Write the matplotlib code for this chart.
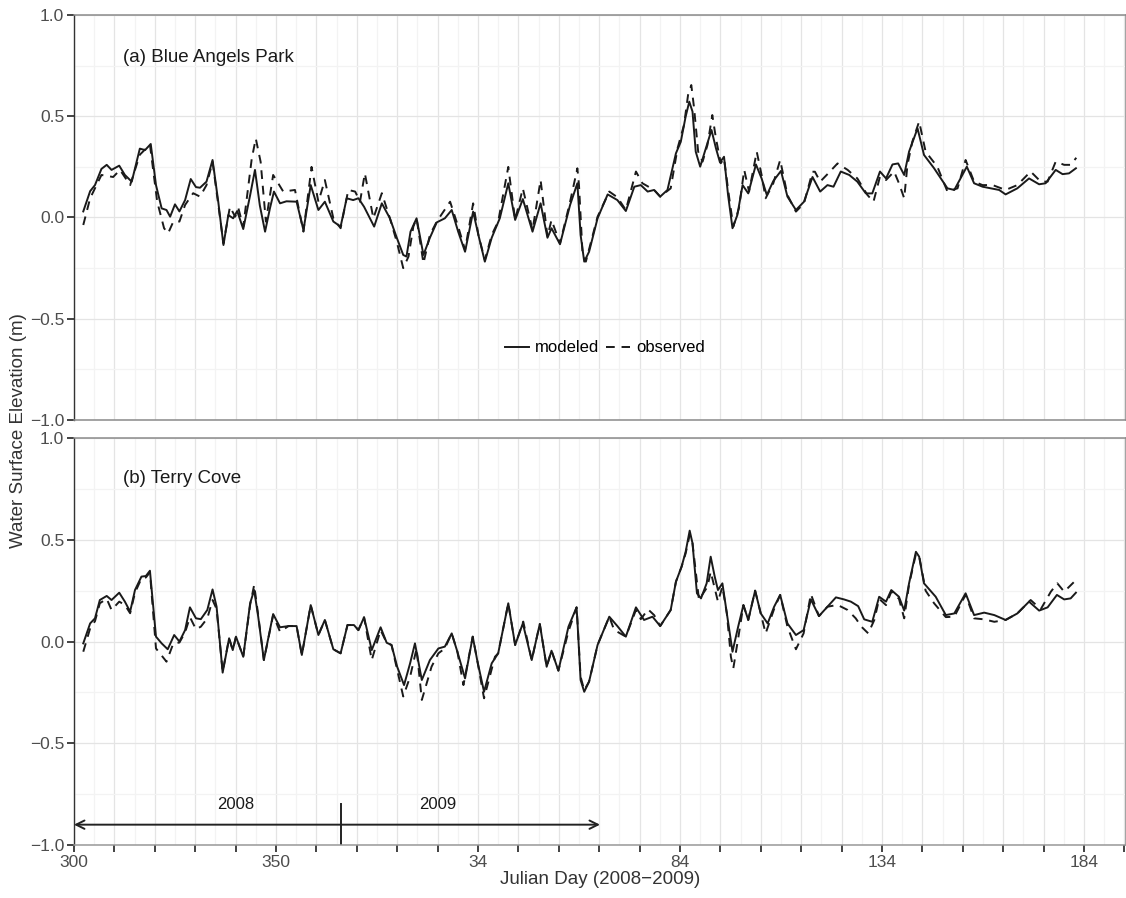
import matplotlib.pyplot as plt

plt.rcParams['font.family'] = ['Liberation Sans', 'DejaVu Sans']

# x = continuous day count: 2008 Julian days 300..366, then 366 + Julian day of 2009
# (a) Blue Angels Park
bap_mod_day = [302.3, 304.0, 305.2, 306.8, 308.1, 309.3, 311.2, 312.6, 314.3, 316.3, 317.6, 319.0,
               320.3, 321.7, 322.9, 323.8, 325.0, 326.1, 327.5, 328.9, 330.2, 331.2, 332.8, 334.3,
               335.7, 337.0, 338.2, 339.4, 340.4, 341.9, 343.6, 344.8, 346.0, 347.3, 348.5, 349.5,
               351.0, 352.6, 355.1, 356.8, 358.6, 360.5, 362.1, 364.2, 366.0, 367.5, 369.1, 370.4,
               371.8, 374.3, 376.2, 378.2, 379.9, 381.5, 382.3, 383.3, 384.8, 386.5, 388.1, 389.8,
               391.8, 393.5, 395.1, 396.8, 398.8, 400.1, 401.7, 403.4, 405.4, 407.5, 409.2, 411.1,
               413.5, 415.5, 417.2, 418.2, 420.3, 422.8, 424.6, 425.4, 426.3, 427.5, 429.6, 432.1,
               434.5, 436.6, 438.7, 440.3, 442.0, 443.6, 445.1, 446.9, 449.0, 450.2, 451.4, 452.3,
               453.1, 453.9, 455.0, 456.4, 457.8, 458.9, 459.9, 460.9, 461.9, 463.0, 464.2, 465.5,
               466.9, 468.8, 470.2, 471.5, 473.1, 475.0, 476.6, 478.7, 480.7, 482.8, 484.7, 486.5,
               488.0, 489.8, 491.9, 493.9, 496.0, 497.6, 499.5, 501.0, 502.6, 504.0, 505.5, 506.7,
               508.8, 510.4, 512.9, 516.2, 517.9, 521.0, 522.8, 524.9, 526.9, 529.0, 530.6, 533.5,
               536.4, 538.9, 540.5, 543.0, 544.7, 546.3, 548.0]
bap_mod = [0.03, 0.13, 0.16, 0.24, 0.26, 0.235, 0.256, 0.21, 0.177, 0.34, 0.333, 0.363,
           0.16, 0.045, 0.037, 0.004, 0.065, 0.03, 0.086, 0.19, 0.15, 0.147, 0.177, 0.284,
           0.08, -0.136, 0.012, -0.004, 0.032, -0.057, 0.11, 0.235, 0.06, -0.07, 0.045, 0.128,
           0.07, 0.08, 0.078, -0.062, 0.16, 0.037, 0.078, -0.02, -0.045, 0.095, 0.086, 0.095,
           0.053, -0.045, 0.07, -0.004, -0.1, -0.185, -0.193, -0.07, -0.004, -0.185, -0.1, -0.024,
           -0.004, 0.037, -0.07, -0.169, 0.029, -0.086, -0.218, -0.1, -0.004, 0.169, -0.012, 0.091,
           -0.07, 0.07, -0.1, -0.053, -0.132, 0.062, 0.169, -0.086, -0.218, -0.169, -0.004, 0.114,
           0.086, 0.032, 0.152, 0.16, 0.128, 0.136, 0.103, 0.136, 0.317, 0.374, 0.498, 0.572,
           0.523, 0.325, 0.251, 0.342, 0.432, 0.342, 0.272, 0.3, 0.111, -0.053, 0.012, 0.16,
           0.119, 0.262, 0.193, 0.111, 0.18, 0.23, 0.103, 0.037, 0.078, 0.2, 0.128, 0.16,
           0.152, 0.227, 0.21, 0.177, 0.119, 0.119, 0.227, 0.193, 0.262, 0.267, 0.21, 0.325,
           0.44, 0.309, 0.243, 0.144, 0.136, 0.251, 0.169, 0.152, 0.144, 0.136, 0.114, 0.144,
           0.193, 0.164, 0.169, 0.235, 0.214, 0.218, 0.243]

bap_obs_day = [302.3, 304.0, 306.8, 309.7, 311.4, 313.9, 316.3, 318.8, 320.6, 322.3, 323.3, 324.6,
               326.1, 327.5, 329.5, 331.2, 332.8, 334.3, 337.0, 338.6, 339.9, 340.7, 341.9, 344.0,
               345.0, 346.2, 347.5, 349.3, 351.8, 354.7, 356.8, 358.8, 360.5, 362.1, 364.2, 366.0,
               367.9, 369.6, 370.8, 372.0, 374.1, 376.2, 378.2, 379.9, 381.5, 382.8, 384.0, 384.8,
               386.5, 388.1, 389.8, 393.1, 395.1, 396.8, 398.8, 400.1, 401.7, 403.4, 405.0, 407.5,
               409.2, 411.1, 413.5, 415.5, 417.2, 418.2, 420.3, 422.8, 424.6, 425.0, 425.9, 426.7,
               429.6, 432.5, 434.5, 436.6, 439.1, 440.7, 443.6, 445.1, 447.7, 449.4, 451.0, 452.0,
               452.8, 453.5, 454.5, 455.6, 456.8, 458.0, 458.9, 460.1, 460.9, 462.2, 463.2, 464.6,
               465.9, 467.1, 469.0, 470.2, 471.2, 473.1, 474.8, 476.6, 478.7, 480.7, 482.8, 483.4,
               484.7, 486.7, 489.0, 491.5, 493.9, 496.4, 497.9, 499.5, 501.0, 503.0, 504.2, 505.5,
               506.3, 507.5, 509.2, 510.8, 513.7, 516.2, 518.7, 520.7, 522.8, 524.9, 527.4, 530.6,
               533.5, 536.8, 539.3, 541.0, 543.0, 545.1, 546.7, 548.1]
bap_obs = [-0.037, 0.095, 0.21, 0.2, 0.235, 0.16, 0.31, 0.36, 0.078, -0.053, -0.078, -0.02,
           -0.02, 0.062, 0.12, 0.103, 0.16, 0.275, -0.128, 0.053, 0.004, 0.045, -0.045, 0.29,
           0.39, 0.275, -0.02, 0.21, 0.128, 0.136, -0.07, 0.25, 0.078, 0.185, -0.004, -0.053,
           0.136, 0.128, 0.078, 0.218, -0.004, 0.12, -0.004, -0.12, -0.25, -0.193, -0.045, -0.004,
           -0.226, -0.086, -0.02, 0.078, -0.045, -0.16, 0.07, -0.086, -0.21, -0.086, -0.02, 0.25,
           -0.012, 0.144, -0.062, 0.185, -0.094, -0.012, -0.128, 0.078, 0.243, 0.16, -0.185, -0.218,
           0.004, 0.128, 0.1, 0.037, 0.227, 0.169, 0.136, 0.103, 0.144, 0.342, 0.457, 0.605,
           0.654, 0.539, 0.325, 0.276, 0.358, 0.506, 0.391, 0.268, 0.292, 0.095, -0.045, 0.046,
           0.235, 0.128, 0.325, 0.21, 0.095, 0.169, 0.284, 0.111, 0.029, 0.07, 0.226, 0.226,
           0.177, 0.218, 0.267, 0.235, 0.193, 0.111, 0.078, 0.202, 0.185, 0.227, 0.169, 0.095,
           0.259, 0.374, 0.474, 0.325, 0.251, 0.128, 0.144, 0.284, 0.177, 0.16, 0.16, 0.136,
           0.16, 0.227, 0.177, 0.177, 0.276, 0.26, 0.26, 0.295]

# (b) Terry Cove
tc_mod_day = [302.3, 304.0, 305.2, 306.4, 308.1, 309.3, 311.2, 312.6, 313.9, 315.1, 316.7, 317.8,
              318.8, 320.3, 321.7, 323.2, 324.8, 326.1, 327.5, 328.7, 330.2, 331.4, 333.0, 334.3,
              335.3, 336.8, 338.4, 339.3, 340.1, 341.9, 343.6, 344.6, 345.6, 347.0, 349.3, 351.0,
              353.1, 355.1, 356.4, 358.6, 360.5, 362.1, 364.2, 366.0, 367.7, 369.3, 370.4, 371.8,
              373.7, 375.9, 377.4, 378.6, 380.0, 381.7, 383.2, 384.4, 386.1, 388.1, 390.2, 391.8,
              393.5, 394.9, 396.8, 398.7, 399.8, 401.5, 403.4, 405.0, 407.5, 409.2, 411.1, 413.3,
              415.3, 417.0, 418.2, 419.9, 422.4, 424.4, 424.6, 425.4, 426.3, 427.5, 429.6, 432.5,
              434.5, 436.6, 439.1, 441.1, 443.2, 445.1, 447.7, 449.0, 450.4, 451.4, 452.4, 453.1,
              454.2, 455.2, 456.6, 457.6, 458.6, 459.4, 460.5, 461.6, 463.0, 464.4, 465.7, 466.9,
              468.6, 470.0, 471.7, 473.3, 474.8, 476.6, 478.7, 480.6, 482.4, 484.4, 486.5, 488.6,
              490.6, 492.3, 494.1, 495.6, 497.6, 499.3, 501.0, 502.3, 504.2, 505.5, 506.7, 508.4,
              509.2, 510.4, 513.3, 515.8, 517.9, 520.7, 522.8, 525.3, 527.8, 530.6, 533.5, 536.4,
              538.9, 541.0, 543.3, 545.1, 546.7, 548.0]
tc_mod = [-0.009, 0.089, 0.114, 0.204, 0.224, 0.204, 0.24, 0.196, 0.147, 0.253, 0.319, 0.322,
          0.348, 0.024, -0.009, -0.038, 0.032, 0.0, 0.056, 0.168, 0.114, 0.11, 0.155, 0.256,
          0.171, -0.153, 0.016, -0.042, 0.024, -0.075, 0.188, 0.253, 0.122, -0.091, 0.135, 0.07,
          0.076, 0.076, -0.066, 0.179, 0.032, 0.106, -0.038, -0.058, 0.081, 0.081, 0.056, 0.119,
          -0.042, 0.07, -0.006, -0.017, -0.124, -0.214, -0.107, -0.009, -0.189, -0.091, -0.034, -0.025,
          0.04, -0.05, -0.181, 0.024, -0.091, -0.247, -0.107, -0.058, 0.188, -0.017, 0.089, -0.091,
          0.086, -0.124, -0.045, -0.143, 0.073, 0.168, 0.106, -0.189, -0.247, -0.197, -0.017, 0.122,
          0.076, 0.024, 0.168, 0.106, 0.122, 0.076, 0.155, 0.294, 0.368, 0.441, 0.545, 0.483,
          0.237, 0.212, 0.286, 0.417, 0.319, 0.253, 0.286, 0.138, -0.05, 0.073, 0.179, 0.106,
          0.25, 0.138, 0.089, 0.171, 0.229, 0.089, 0.032, 0.056, 0.207, 0.125, 0.171, 0.217,
          0.207, 0.196, 0.174, 0.109, 0.097, 0.22, 0.196, 0.253, 0.22, 0.152, 0.286, 0.441,
          0.417, 0.286, 0.22, 0.13, 0.138, 0.237, 0.13, 0.142, 0.13, 0.106, 0.138, 0.196,
          0.152, 0.168, 0.229, 0.207, 0.212, 0.24]

tc_obs_day = [302.3, 304.0, 305.2, 306.4, 308.1, 309.3, 311.2, 312.6, 313.9, 315.1, 316.7, 317.8,
              318.8, 320.3, 322.9, 324.6, 326.1, 327.5, 328.7, 330.2, 331.4, 333.0, 334.3, 335.3,
              336.8, 338.4, 339.3, 340.1, 341.9, 343.6, 344.6, 345.6, 347.0, 349.3, 351.0, 353.1,
              355.1, 356.4, 358.6, 360.5, 362.1, 364.2, 366.0, 367.7, 369.3, 370.4, 371.8, 373.7,
              375.9, 377.4, 378.6, 380.0, 381.5, 383.2, 384.8, 386.1, 388.5, 390.2, 391.8, 393.5,
              394.9, 396.4, 398.7, 399.8, 401.5, 404.2, 405.0, 407.5, 409.2, 411.2, 413.3, 415.3,
              417.0, 418.2, 419.9, 422.4, 424.4, 424.6, 425.4, 426.3, 427.5, 429.6, 432.5, 433.7,
              436.6, 439.1, 440.3, 442.1, 443.6, 445.1, 447.7, 449.0, 450.4, 451.4, 452.4, 453.1,
              454.7, 456.8, 457.6, 459.4, 460.5, 461.6, 462.6, 463.2, 464.6, 465.7, 466.9, 468.6,
              470.0, 471.2, 473.3, 474.8, 476.6, 478.7, 480.6, 482.4, 484.4, 486.5, 489.0, 491.5,
              493.5, 494.9, 496.6, 498.1, 499.3, 501.0, 502.3, 504.2, 505.5, 506.7, 508.4, 509.2,
              510.8, 512.9, 515.8, 517.9, 520.7, 522.8, 525.3, 527.8, 530.6, 533.5, 536.8, 539.3,
              541.8, 543.4, 545.1, 547.6]
tc_obs = [-0.05, 0.065, 0.1, 0.188, 0.21, 0.155, 0.196, 0.18, 0.139, 0.24, 0.31, 0.315,
          0.34, -0.034, -0.099, -0.009, -0.005, 0.045, 0.12, 0.06, 0.073, 0.114, 0.204, 0.16,
          -0.148, 0.016, -0.042, 0.024, -0.075, 0.18, 0.278, 0.13, -0.091, 0.13, 0.048, 0.076,
          0.076, -0.066, 0.179, 0.032, 0.106, -0.038, -0.058, 0.081, 0.081, 0.056, 0.119, -0.091,
          0.056, -0.006, -0.017, -0.14, -0.27, -0.173, -0.034, -0.287, -0.124, -0.058, -0.034, 0.04,
          -0.05, -0.214, 0.024, -0.091, -0.279, -0.075, -0.058, 0.188, -0.017, 0.098, -0.091, 0.086,
          -0.124, -0.045, -0.143, 0.05, 0.168, 0.106, -0.173, -0.239, -0.197, -0.017, 0.122, 0.057,
          0.024, 0.155, 0.11, 0.158, 0.13, 0.076, 0.155, 0.294, 0.368, 0.433, 0.524, 0.483,
          0.205, 0.269, 0.343, 0.196, 0.27, 0.138, -0.075, -0.132, 0.04, 0.179, 0.106, 0.25,
          0.138, 0.04, 0.16, 0.229, 0.073, -0.038, 0.04, 0.233, 0.125, 0.171, 0.18, 0.155,
          0.114, 0.073, 0.04, 0.106, 0.21, 0.179, 0.245, 0.21, 0.114, 0.28, 0.43, 0.42,
          0.25, 0.188, 0.12, 0.122, 0.23, 0.114, 0.109, 0.097, 0.106, 0.138, 0.204, 0.159,
          0.245, 0.286, 0.245, 0.294]

year_labels = ['2008', '2009']
year_end_2008 = 366

tick_days = list(range(300, 561, 10))
tick_labels = [str(d if d <= 366 else d - 366) if (d - 300) % 50 == 0 else '' for d in tick_days]

fig = plt.figure(figsize=(11.26, 8.98), dpi=100)
ax_a = fig.add_axes([0.0657, 0.5323, 0.9343, 0.451])
ax_b = fig.add_axes([0.0657, 0.0590, 0.9343, 0.4532])

for ax in (ax_a, ax_b):
    ax.set_xlim(300, 560.4)
    ax.set_ylim(-1.0, 1.0)
    ax.set_xticks(tick_days)
    ax.set_xticks(range(305, 561, 10), minor=True)
    ax.set_yticks([-1.0, -0.5, 0.0, 0.5, 1.0])
    ax.set_yticklabels(['\u22121.0', '\u22120.5', '0.0', '0.5', '1.0'])
    ax.set_yticks([-0.75, -0.25, 0.25, 0.75], minor=True)
    ax.grid(which='major', color='#e4e4e4', lw=0.9)
    ax.grid(which='minor', color='#f3f3f3', lw=0.9)
    ax.set_axisbelow(True)
    ax.tick_params(which='major', length=5, width=1.2, color='#222222',
                   labelsize=12.5, labelcolor='#4d4d4d', pad=2)
    ax.tick_params(which='minor', length=0)
    for s in ('top', 'right', 'bottom'):
        ax.spines[s].set_color('#8a8a8a')
        ax.spines[s].set_linewidth(1.1)
    ax.spines['left'].set_color('#333333')
    ax.spines['left'].set_linewidth(1.0)

ax_a.tick_params(axis='x', which='both', bottom=False, labelbottom=False)
ax_b.set_xticklabels(tick_labels)
ax_b.spines['bottom'].set_color('#999999')

lw = 1.4
ax_a.plot(bap_mod_day, bap_mod, color='#1a1a1a', lw=lw, label='modeled')
ax_a.plot(bap_obs_day, bap_obs, color='#1a1a1a', lw=lw, ls=(0, (4.5, 3.5)), label='observed')
ax_b.plot(tc_mod_day, tc_mod, color='#1a1a1a', lw=lw)
ax_b.plot(tc_obs_day, tc_obs, color='#1a1a1a', lw=lw, ls=(0, (4.5, 3.5)))

ax_a.text(312.1, 0.79, '(a) Blue Angels Park', fontsize=13.5, color='#1a1a1a', va='center')
ax_b.text(312.1, 0.80, '(b) Terry Cove', fontsize=13.5, color='#1a1a1a', va='center')

ax_a.legend(loc='center', bbox_to_anchor=(0.505, 0.178), ncol=2, frameon=False,
            handlelength=1.4, handletextpad=0.4, columnspacing=0.4, fontsize=12)

# year arrows
ax_b.annotate('', xy=(300, -0.9), xytext=(430.2, -0.9),
              arrowprops=dict(arrowstyle='<->', lw=1.4, color='#222222',
                              shrinkA=0, shrinkB=0, mutation_scale=15))
ax_b.plot([year_end_2008, year_end_2008], [-1.0, -0.8], color='#222222', lw=1.4)
ax_b.text(340, -0.8, year_labels[0], fontsize=12, ha='center', va='center', color='#1a1a1a')
ax_b.text(390, -0.8, year_labels[1], fontsize=12, ha='center', va='center', color='#1a1a1a')

ax_b.set_xlabel('Julian Day (2008\u22122009)', fontsize=13.5, color='#333333', labelpad=1)
fig.text(0.016, 0.52, 'Water Surface Elevation (m)', rotation=90, fontsize=13.5,
         color='#333333', ha='center', va='center')

fig.savefig('out.png', dpi=100)
